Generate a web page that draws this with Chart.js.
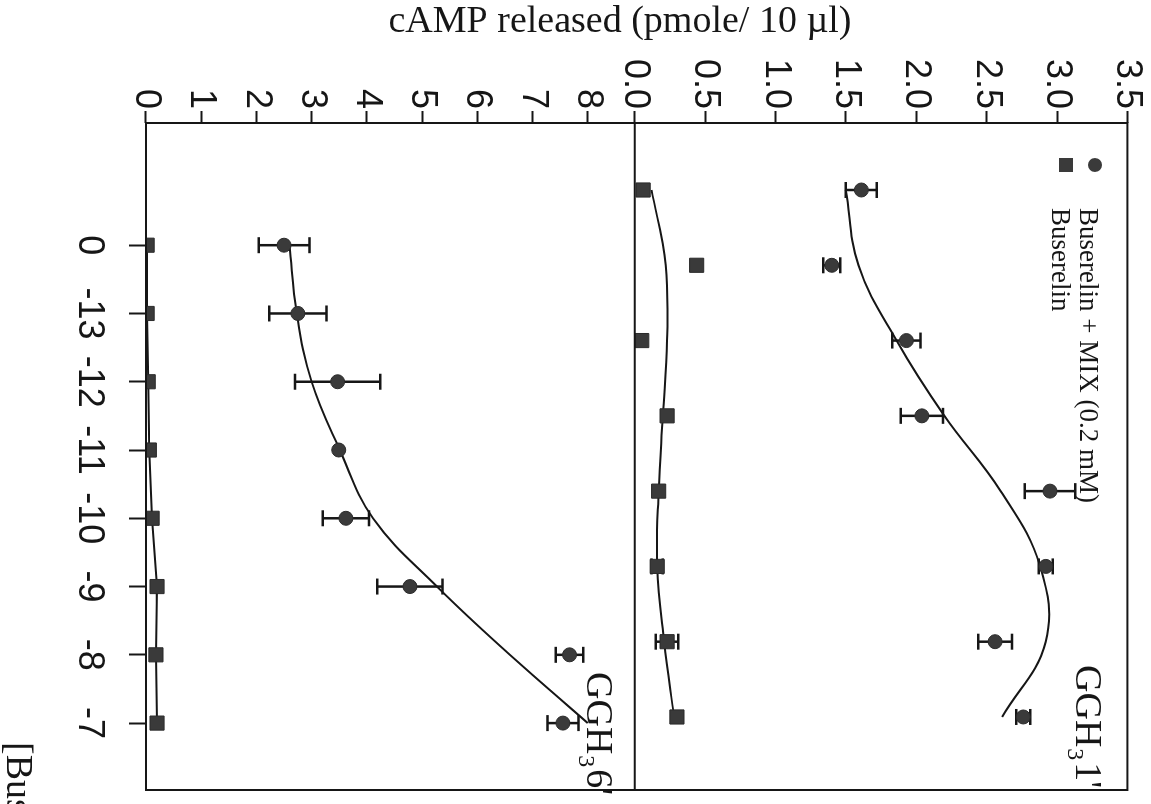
<!DOCTYPE html>
<html>
<head>
<meta charset="utf-8">
<script src="https://cdn.jsdelivr.net/npm/chart.js@4.4.1/dist/chart.umd.min.js"></script>
<style>
  html, body { margin: 0; padding: 0; background: #ffffff; overflow: hidden; }
  /* The figure is laid out upright (804 wide x 1151 tall) and turned a quarter clockwise */
  #stage {
    position: absolute; left: 0; top: 0;
    width: 804px; height: 1151px;
    transform-origin: 0 0;
    transform: translate(1151px, 0) rotate(90deg);
  }
  canvas { display: block; }
</style>
</head>
<body>
<div id="stage"><canvas id="fig" width="804" height="1151"></canvas></div>
<script>
// Buserelin concentration (log M); 0 = no buserelin
const doseLabels = ['0', '-13', '-12', '-11', '-10', '-9', '-8', '-7'];

// GGH3 1' cells
const mix1     = [1.61, 1.40, 1.93, 2.04, 2.95, 2.92, 2.56, 2.76];
const mix1Err  = [0.11, 0.06, 0.10, 0.15, 0.18, 0.05, 0.12, 0.05];
const mix1Fit  = [1.50, 1.59, 1.86, 2.20, 2.60, 2.88, 2.92, 2.61];
const bus1     = [0.06, 0.44, 0.05, 0.23, 0.17, 0.16, 0.23, 0.30];
const bus1Err  = [0, 0, 0, 0, 0, 0.04, 0.08, 0];
const bus1Fit  = [0.12, 0.22, 0.23, 0.20, 0.17, 0.16, 0.21, 0.28];

// GGH3 6' cells
const mix6     = [2.50, 2.75, 3.47, 3.49, 3.62, 4.78, 7.67, 7.55];
const mix6Err  = [0.46, 0.52, 0.77, 0, 0.42, 0.59, 0.25, 0.28];
const mix6Fit  = [2.60, 2.73, 3.00, 3.51, 4.11, 5.27, 6.59, 8.00];
const bus6     = [0.02, 0.02, 0.04, 0.06, 0.11, 0.20, 0.18, 0.20];

// value-axis ticks
const ticks1 = [0, 0.5, 1.0, 1.5, 2.0, 2.5, 3.0, 3.5];
const ticks6 = [0, 1, 2, 3, 4, 5, 6, 7, 8];

const INK = '#161616';
const MARK = '#3a3a3a';
const SANS = '"Liberation Sans", Arial, sans-serif';
const SERIF = '"Liberation Serif", "Times New Roman", serif';

const pts = vals => vals.map((v, i) => ({ x: i, y: v }));

function markerSet(label, vals, errs, style, xAxisID, yAxisID, joined) {
  return {
    label, data: pts(vals), errorBars: errs,
    xAxisID, yAxisID,
    showLine: !!joined, borderColor: INK, borderWidth: 2, tension: 0,
    pointStyle: style,
    pointRadius: style === 'rect' ? 10 : 7,
    pointBackgroundColor: MARK, pointBorderColor: '#2b2b2b', pointBorderWidth: 1,
    fill: false
  };
}
function fitSet(label, vals, xAxisID, yAxisID) {
  return {
    label, data: pts(vals), xAxisID, yAxisID,
    showLine: true, borderColor: INK, borderWidth: 2, tension: 0.4,
    pointRadius: 0, fill: false
  };
}

const errorBarPlugin = {
  id: 'errorBars',
  beforeDatasetsDraw(chart) {
    const ctx = chart.ctx;
    chart.data.datasets.forEach(ds => {
      if (!ds.errorBars) return;
      const xs = chart.scales[ds.xAxisID], ys = chart.scales[ds.yAxisID];
      ctx.save();
      ctx.strokeStyle = INK; ctx.lineWidth = 2.5;
      ds.data.forEach((p, i) => {
        const e = ds.errorBars[i];
        if (!e) return;
        const x = xs.getPixelForValue(p.x);
        const lo = ys.getPixelForValue(p.y - e), hi = ys.getPixelForValue(p.y + e);
        ctx.beginPath();
        ctx.moveTo(x, lo); ctx.lineTo(x, hi);
        ctx.moveTo(x - 8, lo); ctx.lineTo(x + 8, lo);
        ctx.moveTo(x - 8, hi); ctx.lineTo(x + 8, hi);
        ctx.stroke();
      });
      ctx.restore();
    });
  }
};

const framePlugin = {
  id: 'frame',
  afterDraw(chart) {
    const { ctx, chartArea: a } = chart;
    ctx.save();
    ctx.strokeStyle = INK; ctx.lineWidth = 2;
    ctx.strokeRect(a.left, a.top, a.right - a.left, a.bottom - a.top);
    const mid = chart.scales.yT.bottom;
    ctx.beginPath(); ctx.moveTo(a.left, mid); ctx.lineTo(a.right, mid); ctx.stroke();
    ctx.restore();
  }
};

function panelLabel(ctx, x, y, cell) {
  ctx.font = '38px ' + SERIF;
  ctx.fillText('GGH', x, y);
  let w = ctx.measureText('GGH').width;
  ctx.font = '24px ' + SERIF;
  ctx.fillText('3', x + w + 1, y + 8);
  w += ctx.measureText('3').width + 3;
  ctx.font = '38px ' + SERIF;
  ctx.fillText(cell, x + w, y);
}

const textPlugin = {
  id: 'texts',
  afterDraw(chart) {
    const ctx = chart.ctx;
    ctx.save();
    ctx.fillStyle = INK;
    ctx.textBaseline = 'alphabetic';

    // value-axis title, shared by both panels
    ctx.save();
    ctx.translate(32, 531);
    ctx.rotate(-Math.PI / 2);
    ctx.textAlign = 'center';
    ctx.font = '38px ' + SERIF;
    ctx.fillText('cAMP released (pmole/ 10 \u00b5l)', 0, 0);
    ctx.restore();

    ctx.textAlign = 'left';
    // legend
    ctx.fillStyle = MARK;
    ctx.beginPath(); ctx.arc(165, 56, 7, 0, Math.PI * 2); ctx.fill();
    ctx.fillRect(158, 78, 14, 14);
    ctx.fillStyle = INK;
    ctx.font = '27px ' + SERIF;
    ctx.fillText('Buserelin + MIX (0.2 mM)', 208, 71);
    ctx.fillText('Buserelin', 208, 99);

    // panel names
    panelLabel(ctx, 665, 75, "1'");
    panelLabel(ctx, 672, 564, "6'");

    // dose axis title
    ctx.font = '38px ' + SERIF;
    ctx.fillText('[Buserelin] (log M)', 742, 1144);
    ctx.restore();
  }
};

const tickFont = { family: SANS, size: 36 };

new Chart(document.getElementById('fig'), {
  type: 'line',
  data: {
    datasets: [
      markerSet('Buserelin + MIX (0.2 mM)', mix1, mix1Err, 'circle', 'xT', 'yT', false),
      markerSet('Buserelin', bus1, bus1Err, 'rect', 'xT', 'yT', false),
      markerSet('Buserelin + MIX (0.2 mM)', mix6, mix6Err, 'circle', 'xB', 'yB', false),
      markerSet('Buserelin', bus6, null, 'rect', 'xB', 'yB', true),
      fitSet('fit', mix1Fit, 'xT', 'yT'),
      fitSet('fit', bus1Fit, 'xT', 'yT'),
      fitSet('fit', mix6Fit, 'xB', 'yB')
    ]
  },
  options: {
    responsive: false,
    animation: false,
    devicePixelRatio: 1,
    layout: { padding: { top: 23, right: 14, left: 0, bottom: 0 } },
    plugins: { legend: { display: false }, tooltip: { enabled: false } },
    scales: {
      xB: {
        type: 'linear', position: 'bottom', min: -1.79, max: 7.98,
        afterBuildTicks: s => { s.ticks = doseLabels.map((_, i) => ({ value: i })); },
        afterFit: s => { s.height = 146; },
        ticks: { callback: v => doseLabels[v], font: tickFont, color: INK, padding: 18, maxRotation: 0, autoSkip: false },
        grid: { drawOnChartArea: false, drawTicks: true, tickLength: 17, tickWidth: 2, tickColor: INK },
        border: { display: false }
      },
      xT: { type: 'linear', display: false, min: -0.89, max: 7.97 },
      yB: {
        type: 'linear', position: 'left', stack: 'cAMP', stackWeight: 489, min: 0, max: 8.85,
        afterBuildTicks: s => { s.ticks = ticks6.map(v => ({ value: v })); },
        afterFit: s => { s.width = 123; },
        ticks: { callback: v => String(v), font: tickFont, color: INK, padding: 2, autoSkip: false },
        grid: { drawOnChartArea: false, drawTicks: true, tickLength: 12, tickWidth: 2, tickColor: INK },
        border: { display: false }
      },
      yT: {
        type: 'linear', position: 'left', stack: 'cAMP', stackWeight: 493, min: 0, max: 3.5,
        afterBuildTicks: s => { s.ticks = ticks1.map(v => ({ value: v })); },
        afterFit: s => { s.width = 123; },
        ticks: { callback: v => v.toFixed(1), font: tickFont, color: INK, padding: 2, autoSkip: false },
        grid: { drawOnChartArea: false, drawTicks: true, tickLength: 12, tickWidth: 2, tickColor: INK },
        border: { display: false }
      }
    }
  },
  plugins: [errorBarPlugin, framePlugin, textPlugin]
});
</script>
</body>
</html>
